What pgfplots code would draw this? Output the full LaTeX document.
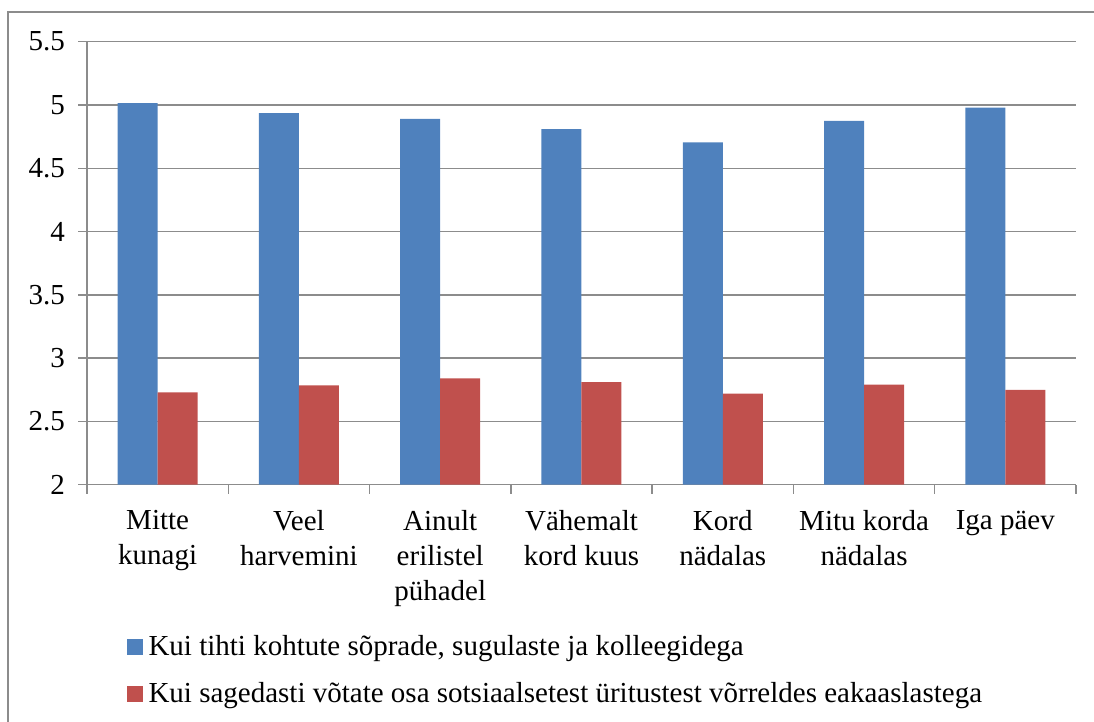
\documentclass[border=0pt]{standalone}
\usepackage{pgfplots}
\pgfplotsset{compat=1.18}
\usepackage{fontspec}
\setmainfont{Liberation Serif}

\definecolor{barblue}{HTML}{4F81BD}
\definecolor{barred}{HTML}{C0504D}
\definecolor{linegray}{HTML}{8C8C8C}

\begin{document}
\begin{tikzpicture}
\useasboundingbox (0,0) rectangle (547pt,361pt);
% outer chart frame (right and bottom edges are cut off in the reference)
\draw[linegray, line width=0.75pt] (4pt,0) -- (4pt,355pt) -- (547pt,355pt);
\begin{axis}[
    at={(43.5pt,118.65pt)}, anchor=south west,
    scale only axis,
    width=494.5pt, height=221.5pt,
    ybar=0pt, bar width=20pt,
    ymin=2, ymax=5.5,
    ytick={2,2.5,...,5.5},
    xmin=-0.5, xmax=6.5,
    xtick={0,...,6},
    xticklabels={Mitte\\kunagi, Veel\\harvemini, Ainult\\erilistel\\pühadel,
                 Vähemalt\\kord kuus, Kord\\nädalas, Mitu korda\\nädalas, Iga päev},
    minor xtick={-0.5,0.5,...,6.5},
    axis x line*=bottom, axis y line*=left,
    axis line style={linegray, line width=0.75pt, -},
    tick align=outside,
    major tick length=4.5pt,
    x tick style={draw=none},
    minor x tick style={draw=linegray, line width=0.75pt},
    minor tick length=4.5pt,
    y tick style={linegray, line width=0.75pt},
    ymajorgrids,
    grid style={linegray, line width=0.75pt},
    /pgf/number format/assume math mode=true,
    yticklabel style={font=\fontsize{14.5}{17.5}\selectfont, xshift=-3pt},
    xticklabel style={font=\fontsize{14.5}{17.5}\selectfont,
        align=center, anchor=north, yshift=-5pt},
    legend style={draw=none, fill=none, at={(0.04,-0.33)}, anchor=north west,
        legend cell align=left, row sep=8pt, inner sep=0pt,
        font=\fontsize{14.5}{17}\selectfont,
        nodes={inner xsep=3pt}},
    legend image code/.code={\fill[#1] (0pt,-3.9pt) rectangle (7.8pt,3.9pt);},
]
\addplot[fill=barblue, draw=none] coordinates {
    (0,5.015) (1,4.935) (2,4.89) (3,4.81) (4,4.705) (5,4.875) (6,4.98)};
\addplot[fill=barred, draw=none] coordinates {
    (0,2.73) (1,2.785) (2,2.84) (3,2.81) (4,2.72) (5,2.79) (6,2.75)};
\legend{{Kui tihti kohtute sõprade, sugulaste ja kolleegidega},
        {Kui sagedasti võtate osa sotsiaalsetest üritustest võrreldes eakaaslastega}}
\end{axis}
\end{tikzpicture}
\end{document}
